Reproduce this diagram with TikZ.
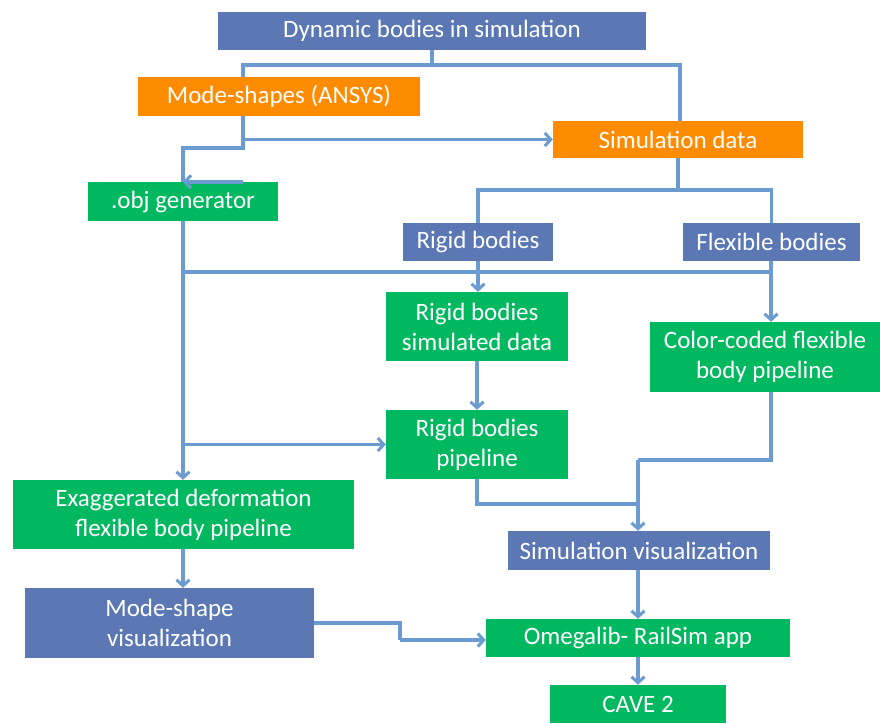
\documentclass[tikz,border=0pt]{standalone}
\usepackage{fontspec}
\setmainfont{Carlito}
\usetikzlibrary{arrows.meta}
\definecolor{bblue}{RGB}{91,120,181}
\definecolor{borange}{RGB}{255,140,0}
\definecolor{bgreen}{RGB}{0,184,96}
\definecolor{lineblue}{RGB}{108,155,210}
\begin{document}
\begin{tikzpicture}[x=1pt,y=-1pt,
  box/.style={rectangle,inner sep=0pt,text=white,align=center,
    font=\fontsize{25}{30}\selectfont},
  bluebox/.style={box,fill=bblue},
  orangebox/.style={box,fill=borange},
  greenbox/.style={box,fill=bgreen},
  conn/.style={draw=lineblue,line width=3.4pt},
  arr/.style={conn,-{Straight Barb[length=6pt,width=13pt,line width=3pt]}}]
\useasboundingbox (0,0) rectangle (880,723);
\fill[white] (0,0) rectangle (880,723);
% nodes
\node[bluebox,minimum width=428pt,minimum height=38pt] (dyn) at (432,31) {Dynamic bodies in simulation};
\node[orangebox,minimum width=282pt,minimum height=39pt] (mode) at (279,96.5) {Mode-shapes (ANSYS)};
\node[orangebox,minimum width=250pt,minimum height=37pt] (simd) at (678,139.5) {Simulation data};
\node[greenbox,minimum width=190pt,minimum height=39pt] (obj) at (183,201.5) {.obj generator};
\node[bluebox,minimum width=150pt,minimum height=38pt] (rigid) at (478,242) {Rigid bodies};
\node[bluebox,minimum width=177pt,minimum height=38pt] (flex) at (771.5,242) {Flexible bodies};
\node[greenbox,minimum width=182pt,minimum height=69pt] (rsd) at (477,326.5) {Rigid bodies\\simulated data};
\node[greenbox,minimum width=230pt,minimum height=70pt] (ccf) at (765,357) {Color-coded flexible\\body pipeline};
\node[greenbox,minimum width=182pt,minimum height=69pt] (rbp) at (477,444.5) {Rigid bodies\\pipeline};
\node[greenbox,minimum width=341pt,minimum height=69pt] (exa) at (183.5,514.5) {Exaggerated deformation\\flexible body pipeline};
\node[bluebox,minimum width=262pt,minimum height=39pt] (simv) at (639,550.5) {Simulation visualization};
\node[bluebox,minimum width=289pt,minimum height=70pt] (msv) at (169.5,623) {Mode-shape\\visualization};
\node[greenbox,minimum width=304pt,minimum height=38pt] (omg) at (638,638) {Omegalib- RailSim app};
\node[greenbox,minimum width=176pt,minimum height=38pt] (cave) at (638,704) {CAVE 2};
% junction coordinates
\coordinate (j1) at (432,65);
\coordinate (jl) at (243,65);
\coordinate (jr) at (680,65);
\coordinate (m1) at (243,148);
\coordinate (j3) at (678,190);
\coordinate (h1) at (183,272);
\coordinate (c1) at (771,460);
\coordinate (c2) at (638,460);
\coordinate (r1) at (477,504);
\coordinate (s1) at (400,623);
\coordinate (s2) at (400,640);
% connectors
\draw[conn] (dyn.south) -- (j1);
\draw[conn] (jl |- mode.north) -- (jl) -- (jr) -- (jr |- simd.north);
\draw[conn] (jl |- mode.south) -- (m1) -| (obj.north);
\draw[arr] (m1 |- obj.north) -- (obj.north);
\draw[arr] (jl |- simd.west) -- (simd.west);
\draw[conn] (simd.south) -- (j3);
\draw[conn] (rigid.north) |- (j3) -| (flex.north);
\draw[arr] (obj.south) -- (obj.south |- exa.north);
\draw[conn] (h1) -- (h1 -| flex.south);
\draw[arr] (rigid.south) -- (rigid.south |- rsd.north);
\draw[arr] (c1 |- flex.south) -- (c1 |- ccf.north);
\draw[arr] (h1 |- rbp.west) -- (rbp.west);
\draw[arr] (rsd.south) -- (rbp.north);
\draw[conn] (c1 |- ccf.south) -- (c1) -- (c2);
\draw[arr] (c2) -- (c2 |- simv.north);
\draw[conn] (rbp.south) -- (r1) -- (r1 -| c2);
\draw[arr] (c2 |- simv.south) -- (c2 |- omg.north);
\draw[arr] (exa.south -| obj.south) -- (obj.south |- msv.north);
\draw[conn] (msv.east) -- (s1) -- (s2);
\draw[arr] (s2) -- (s2 -| omg.west);
\draw[arr] (omg.south) -- (cave.north);
\end{tikzpicture}
\end{document}
